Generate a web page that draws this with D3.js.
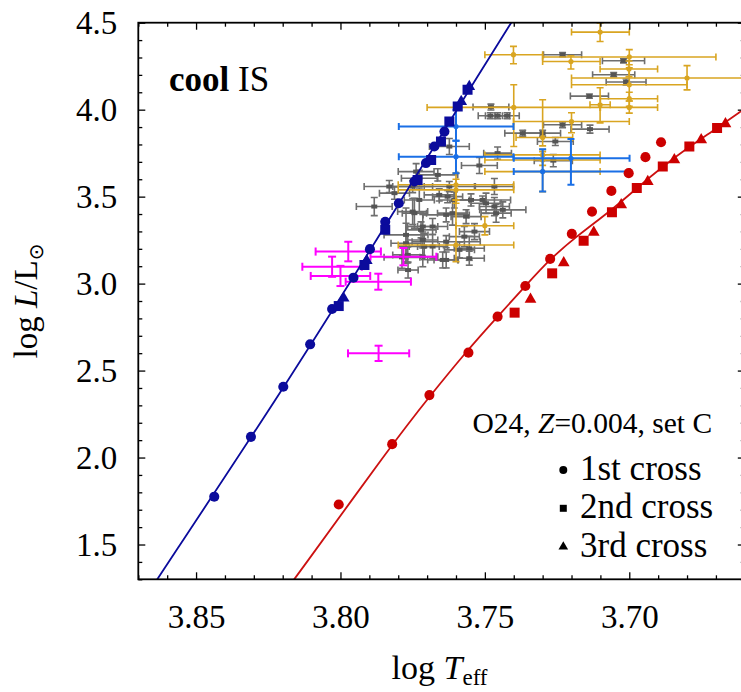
<!DOCTYPE html>
<html><head><meta charset="utf-8">
<script src="https://cdn.jsdelivr.net/npm/d3@7"></script>
<style>
html,body{margin:0;padding:0;background:#fff;}
svg{display:block;}
text{font-family:"Liberation Serif","Times New Roman",serif;fill:#000;}
</style></head>
<body>
<svg id="chart" width="741" height="692"></svg>
<script>
// ---------------- DATA ----------------
const xMajorTicks = [3.85, 3.80, 3.75, 3.70];
const yMajorTicks = [1.5, 2.0, 2.5, 3.0, 3.5, 4.0, 4.5];

// model tracks (edges)
const blueTrackT = [3.8660, 3.8636, 3.8177, 3.7796, 3.7490, 3.7409, 3.7370];
const blueTrackL = [1.235, 1.298, 2.445, 3.462, 4.287, 4.500, 4.600];
const redTrackT  = [3.8190, 3.8160, 3.7821, 3.7692, 3.7560, 3.7456, 3.7360, 3.7274, 3.7184, 3.7060, 3.6974, 3.6884, 3.6792, 3.6696, 3.6615, 3.6560];
const redTrackL  = [1.235, 1.298, 2.077, 2.350, 2.618, 2.810, 2.986, 3.142, 3.270, 3.424, 3.549, 3.673, 3.788, 3.894, 3.990, 4.050];

// blue edge crossings
const blue1T = [3.8437, 3.8310, 3.8198, 3.8105, 3.8029, 3.7955, 3.7898, 3.7845, 3.7798, 3.7744, 3.7704, 3.7675, 3.7640];
const blue1L = [1.775, 2.119, 2.407, 2.651, 2.854, 3.034, 3.198, 3.355, 3.462, 3.587, 3.693, 3.788, 3.874];
const blue2T = [3.8006, 3.7917, 3.7845, 3.7733, 3.7686, 3.7652, 3.7623, 3.7594, 3.7560];
const blue2L = [2.871, 3.107, 3.310, 3.596, 3.711, 3.817, 3.932, 4.018, 4.114];
const blue3T = [3.7989, 3.7909, 3.7582, 3.7554];
const blue3L = [2.916, 3.132, 4.047, 4.133];

// red edge crossings
const red1T = [3.8006, 3.7821, 3.7692, 3.7557, 3.7456, 3.7360, 3.7274, 3.7199, 3.7129, 3.7062, 3.7002, 3.6944, 3.6890];
const red1L = [1.730, 2.077, 2.359, 2.603, 2.810, 2.986, 3.142, 3.286, 3.414, 3.533, 3.635, 3.727, 3.813];
const red2T = [3.7397, 3.7267, 3.7158, 3.7060, 3.6974, 3.6884, 3.6792, 3.6696];
const red2L = [2.833, 3.059, 3.247, 3.410, 3.549, 3.673, 3.788, 3.894];
const red3T = [3.7342, 3.7227, 3.7123, 3.7028, 3.6936, 3.6844, 3.6751, 3.6667];
const red3L = [2.910, 3.120, 3.295, 3.453, 3.587, 3.712, 3.827, 3.919];

// observed stars: grey sample (symmetric errors)
const greyT  = [3.7231,3.7020,3.7054,3.7011,3.7138,3.7479,3.7481,3.7456,3.7423,3.7231,3.7136,3.7369,3.7300,3.7256,3.7623,3.7456,3.7263,3.7519,3.7663,3.7467,3.7883,3.7738,
                3.7727,3.7623,3.7508,3.7629,3.7606,3.7467,3.7634,3.7565,3.7438,3.7681,3.7721,3.7536,3.7634,3.7710,3.7554,3.7634,3.7767,3.7750,3.7831,3.7727,3.7750,3.7658,
                3.7612,3.7548,3.7496,3.7461,3.7715,3.7571,3.7681,3.7773,3.7588,3.7813,3.7773,3.7744,3.7787,3.7766,3.7715,3.7646,3.7554,3.7715];
const greyL  = [4.316,4.281,4.201,4.159,4.078,4.015,3.965,3.965,3.965,3.913,3.888,3.865,3.865,3.817,3.788,3.750,3.707,3.679,3.625,3.558,3.443,3.644,
                3.606,3.558,3.481,3.500,3.481,3.443,3.395,3.385,3.424,3.328,3.309,3.299,3.241,3.213,3.203,3.136,3.165,3.558,3.558,3.481,3.414,3.510,
                3.405,3.481,3.462,3.405,3.328,3.270,3.213,3.232,3.194,3.520,3.280,3.405,3.151,3.078,3.155,3.136,3.146,3.251];
const greyTe = [0.0066,0.0073,0.0073,0.0069,0.0066,0.0062,0.0042,0.0042,0.0042,0.0066,0.0066,0.0062,0.0062,0.0062,0.0069,0.0048,0.0066,0.0062,0.0069,0.0066,0.0062,0.0062,
                0.0062,0.0087,0.0097,0.0052,0.0052,0.0052,0.0080,0.0052,0.0080,0.0052,0.0052,0.0052,0.0118,0.0052,0.0052,0.0042,0.0052,0.0069,0.0087,0.0052,0.0052,0.0052,
                0.0052,0.0052,0.0052,0.0052,0.0052,0.0052,0.0052,0.0052,0.0052,0.0052,0.0076,0.0042,0.0062,0.0035,0.0052,0.0052,0.0052,0.0052];
const greyLe = [0.012,0.012,0.012,0.017,0.012,0.017,0.017,0.017,0.017,0.017,0.023,0.017,0.017,0.023,0.046,0.035,0.035,0.046,0.035,0.046,0.052,0.046,
                0.046,0.029,0.023,0.035,0.046,0.052,0.040,0.040,0.046,0.046,0.046,0.046,0.035,0.075,0.069,0.046,0.046,0.035,0.035,0.069,0.075,0.035,
                0.069,0.035,0.058,0.052,0.069,0.058,0.069,0.115,0.046,0.035,0.155,0.086,0.063,0.046,0.058,0.046,0.040,0.046];

// gold sample (asymmetric bounds)
const goldT    = [3.7101,3.7401,3.7000,3.7202,3.7001,3.6800,3.7000,3.7000,3.7400,3.7000,3.7200,3.7101,3.7300,3.7300,3.7300,3.7300,3.7600,3.7600,3.7500,3.7600];
const goldL    = [4.446,4.316,4.303,4.277,4.234,4.182,4.143,4.063,4.013,4.013,3.932,4.028,3.840,3.740,3.711,3.644,3.568,3.539,3.333,3.222];
const goldTmin = [3.7000,3.7300,3.6700,3.7101,3.6902,3.6400,3.6800,3.6902,3.7101,3.6902,3.7000,3.7066,3.7196,3.7101,3.7101,3.7101,3.7400,3.7400,3.7400,3.7400];
const goldTmax = [3.7200,3.7500,3.7300,3.7300,3.7101,3.7200,3.7200,3.7100,3.7700,3.7100,3.7401,3.7136,3.7392,3.7500,3.7500,3.7500,3.7800,3.7800,3.7600,3.7800];
const goldLmin = [4.392,4.264,4.258,4.234,4.190,4.114,4.050,4.020,3.788,3.980,3.867,3.924,3.792,3.710,3.680,3.529,3.462,3.480,3.280,3.126];
const goldLmax = [4.498,4.364,4.345,4.310,4.280,4.253,4.240,4.100,4.143,4.050,3.982,4.126,4.057,3.770,3.740,3.758,3.635,3.600,3.385,3.481];

// blue sample (asymmetric bounds)
const azureT    = [3.7600, 3.7600, 3.7202, 3.7300];
const azureL    = [3.903, 3.730, 3.720, 3.644];
const azureTmin = [3.7401, 3.7401, 3.6999, 3.6999];
const azureTmax = [3.7798, 3.7798, 3.7400, 3.7400];
const azureLmin = [3.821, 3.635, 3.568, 3.529];
const azureLmax = [3.999, 3.821, 3.831, 3.773];

// magenta sample (symmetric errors)
const magT  = [3.7973, 3.8029, 3.8000, 3.7869, 3.7782, 3.7868];
const magL  = [3.184, 3.097, 3.044, 3.011, 3.155, 2.599];
const magTe = [0.0113, 0.0103, 0.0103, 0.0113, 0.0114, 0.0106];
const magLe = [0.056, 0.058, 0.058, 0.046, 0.050, 0.044];

const legendLabels = ["1st cross", "2nd cross", "3rd cross"];

// ---------------- DRAW ----------------
const svg = d3.select("#chart");
const X0 = 138.3, X1 = 744.8, Y0 = 22.7, Y1 = 579.3;
const x = d3.scaleLinear().domain([3.87, 3.66]).range([X0, X1]);
const y = d3.scaleLinear().domain([1.3, 4.5]).range([Y1, Y0]);

svg.append("defs").append("clipPath").attr("id","clip")
  .append("rect").attr("x",X0).attr("y",Y0).attr("width",X1-X0).attr("height",Y1-Y0);

const plot = svg.append("g").attr("clip-path","url(#clip)");

function errGroup(T, L, Tmin, Tmax, Lmin, Lmax, color, lw, cap, marker) {
  const g = plot.append("g").attr("stroke", color).attr("stroke-width", lw).attr("fill","none");
  T.forEach((t, i) => {
    const cx = x(t), cy = y(L[i]);
    const xa = x(Tmax[i]), xb = x(Tmin[i]);
    const ya = y(Lmax[i]), yb = y(Lmin[i]);
    g.append("line").attr("x1",xa).attr("x2",xb).attr("y1",cy).attr("y2",cy);
    g.append("line").attr("x1",xa).attr("x2",xa).attr("y1",cy-cap).attr("y2",cy+cap);
    g.append("line").attr("x1",xb).attr("x2",xb).attr("y1",cy-cap).attr("y2",cy+cap);
    g.append("line").attr("x1",cx).attr("x2",cx).attr("y1",ya).attr("y2",yb);
    g.append("line").attr("x1",cx-cap).attr("x2",cx+cap).attr("y1",ya).attr("y2",ya);
    g.append("line").attr("x1",cx-cap).attr("x2",cx+cap).attr("y1",yb).attr("y2",yb);
    if (marker === "rect") {
      plot.append("rect").attr("x",cx-3).attr("y",cy-2).attr("width",6).attr("height",4).attr("fill","#555");
    } else if (marker) {
      plot.append("circle").attr("cx",cx).attr("cy",cy).attr("r",2.6).attr("fill",marker);
    }
  });
}

// grey
errGroup(greyT, greyL,
  greyT.map((t,i)=>t-greyTe[i]), greyT.map((t,i)=>t+greyTe[i]),
  greyL.map((l,i)=>l-greyLe[i]), greyL.map((l,i)=>l+greyLe[i]),
  "#6e6e6e", 1.6, 3.5, "rect");
// gold
errGroup(goldT, goldL, goldTmin, goldTmax, goldLmin, goldLmax, "#d9a521", 1.6, 3.5, "#d9a521");
// azure
errGroup(azureT, azureL, azureTmin, azureTmax, azureLmin, azureLmax, "#1a6fe6", 2, 3.5, "#1a6fe6");
// magenta
errGroup(magT, magL,
  magT.map((t,i)=>t-magTe[i]), magT.map((t,i)=>t+magTe[i]),
  magL.map((l,i)=>l-magLe[i]), magL.map((l,i)=>l+magLe[i]),
  "#ff00ff", 2, 4, null);

// tracks
const line = d3.line().curve(d3.curveBasis);
function track(T, L, color) {
  plot.append("path").attr("d", line(T.map((t,i)=>[x(t), y(L[i])])))
    .attr("fill","none").attr("stroke",color).attr("stroke-width",1.8);
}
track(blueTrackT, blueTrackL, "#0b0b9c");
track(redTrackT, redTrackL, "#cc1111");

function markers(T, L, type, size, color) {
  const sym = d3.symbol().type(type).size(size);
  plot.append("g").selectAll("path").data(T).join("path")
    .attr("d", sym)
    .attr("transform", (t,i)=>`translate(${x(t)},${y(L[i])})`)
    .attr("fill", color);
}
const BLUE = "#0b0b9c", RED = "#cc0000";
markers(blue1T, blue1L, d3.symbolCircle, 80, BLUE);
markers(blue2T, blue2L, d3.symbolSquare, 100, BLUE);
markers(blue3T, blue3L, d3.symbolTriangle, 60, BLUE);
markers(red1T, red1L, d3.symbolCircle, 80, RED);
markers(red2T, red2L, d3.symbolSquare, 100, RED);
markers(red3T, red3L, d3.symbolTriangle, 60, RED);

// axes
const fontSize = 33;
const xMinor = d3.range(3.66, 3.8701, 0.01).filter(v => !xMajorTicks.some(m => Math.abs(m - v) < 1e-6));
const yMinor = d3.range(1.3, 4.5001, 0.1).filter(v => !yMajorTicks.some(m => Math.abs(m - v) < 1e-6));

function styleAxis(g) {
  g.attr("font-family", null);
  g.select(".domain").remove();
  g.selectAll(".tick line").attr("stroke","#000").attr("stroke-width",1.3);
  g.selectAll(".tick text").style("font-family","'Liberation Serif', serif").attr("font-size",fontSize).attr("fill","#000");
}
svg.append("g").attr("transform",`translate(0,${Y1})`)
  .call(d3.axisBottom(x).tickValues(xMajorTicks).tickFormat(d3.format(".2f")).tickSize(-7).tickPadding(25.5)).call(styleAxis);
svg.append("g").attr("transform",`translate(0,${Y1})`)
  .call(d3.axisBottom(x).tickValues(xMinor).tickFormat("").tickSize(-4)).call(styleAxis);
svg.append("g").attr("transform",`translate(0,${Y0})`)
  .call(d3.axisTop(x).tickValues(xMajorTicks).tickFormat("").tickSize(-7)).call(styleAxis);
svg.append("g").attr("transform",`translate(0,${Y0})`)
  .call(d3.axisTop(x).tickValues(xMinor).tickFormat("").tickSize(-4)).call(styleAxis);
svg.append("g").attr("transform",`translate(${X0},0)`)
  .call(d3.axisLeft(y).tickValues(yMajorTicks).tickFormat(d3.format(".1f")).tickSize(-7).tickPadding(21)).call(styleAxis);
svg.append("g").attr("transform",`translate(${X0},0)`)
  .call(d3.axisLeft(y).tickValues(yMinor).tickFormat("").tickSize(-4)).call(styleAxis);
svg.append("g").attr("transform",`translate(${X1},0)`)
  .call(d3.axisRight(y).tickValues(yMajorTicks).tickFormat("").tickSize(-7)).call(styleAxis);
svg.append("g").attr("transform",`translate(${X1},0)`)
  .call(d3.axisRight(y).tickValues(yMinor).tickFormat("").tickSize(-4)).call(styleAxis);

// frame
svg.append("rect").attr("x",X0).attr("y",Y0).attr("width",X1-X0).attr("height",Y1-Y0)
  .attr("fill","none").attr("stroke","#000").attr("stroke-width",1.8);

// axis titles
const xt = svg.append("text").attr("x",(X0+X1)/2 - 2).attr("y",679).attr("text-anchor","middle").attr("font-size",34);
xt.append("tspan").text("log ");
xt.append("tspan").attr("font-style","italic").text("T");
xt.append("tspan").attr("font-size",23).attr("dy",6).text("eff");

const yt = svg.append("text").attr("transform",`translate(37,${(Y0+Y1)/2}) rotate(-90)`).attr("text-anchor","middle").attr("font-size",33);
yt.append("tspan").text("log ");
yt.append("tspan").attr("font-style","italic").text("L");
yt.append("tspan").text("/L");
yt.append("tspan").attr("font-size",20).attr("dy",6).style("font-family","'DejaVu Sans', sans-serif").text("\u2299");

// "cool IS"
const ci = svg.append("text").attr("x",169).attr("y",90.5).attr("font-size",35);
ci.append("tspan").attr("font-weight","bold").text("cool");
ci.append("tspan").text(" IS");

// legend
const lh = svg.append("text").attr("x",472.5).attr("y",433.3).attr("font-size",29.5);
lh.append("tspan").text("O24, ");
lh.append("tspan").attr("font-style","italic").text("Z");
lh.append("tspan").text("=0.004, set C");

const legTypes = [d3.symbolCircle, d3.symbolSquare, d3.symbolTriangle];
const legSizes = [50, 49, 40];
const legBase = [480, 518.3, 556.7];
legendLabels.forEach((lab, i) => {
  svg.append("path").attr("d", d3.symbol().type(legTypes[i]).size(legSizes[i])())
    .attr("transform",`translate(563.3,${legBase[i]-10})`).attr("fill","#000");
  svg.append("text").attr("x",580).attr("y",legBase[i]).attr("font-size",35).text(lab);
});
</script>
</body></html>
